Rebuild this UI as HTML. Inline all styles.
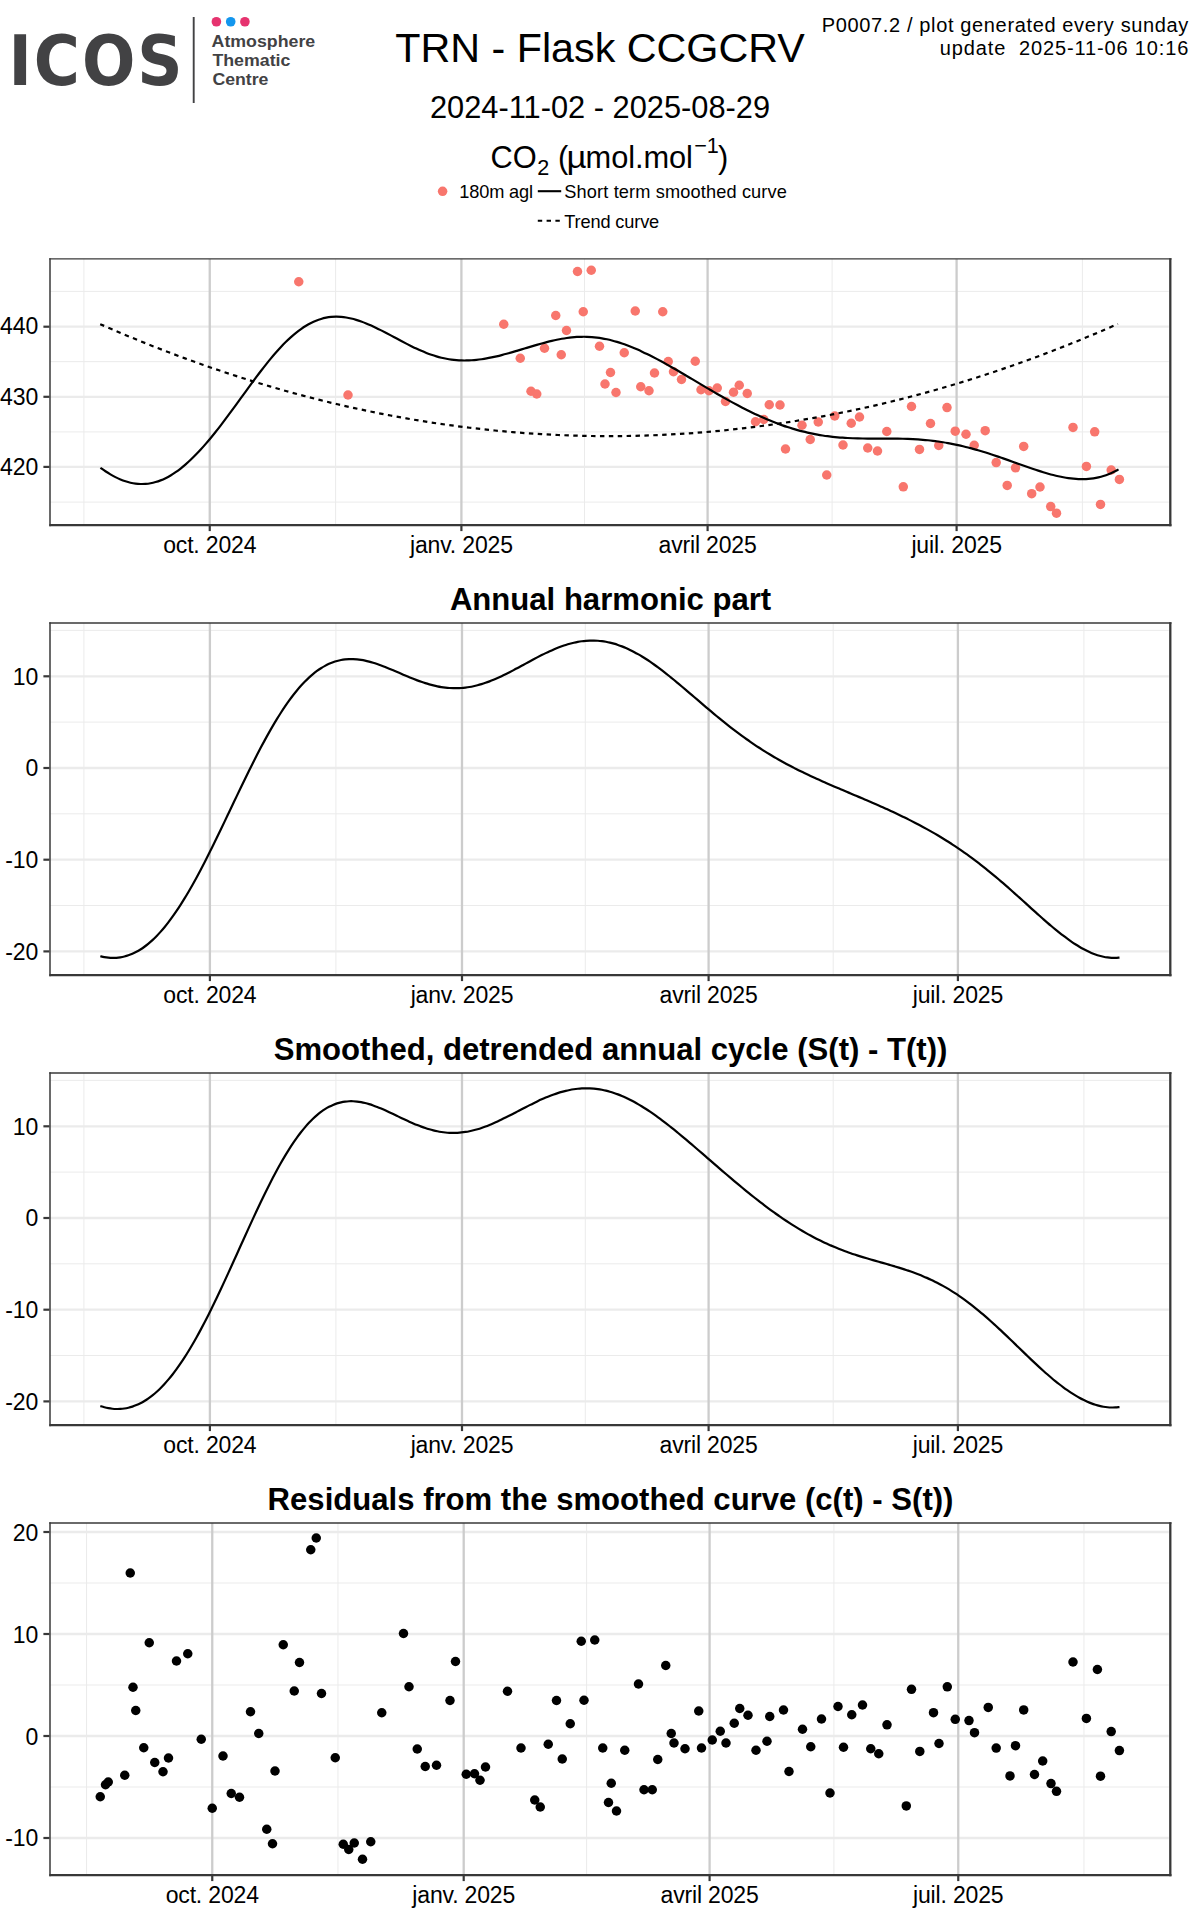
<!DOCTYPE html>
<html lang="fr">
<head>
<meta charset="utf-8">
<title>TRN - Flask CCGCRV</title>
<style>
html,body{margin:0;padding:0;background:#fff;}
body{width:1200px;height:1920px;overflow:hidden;}
svg{display:block;}
text{white-space:pre;}
</style>
</head>
<body>
<svg width="1200" height="1920" viewBox="0 0 1200 1920" font-family="'Liberation Sans', Arial, Helvetica, sans-serif">
<rect width="1200" height="1920" fill="#fff"/>
<g id="logo">
<text transform="scale(0.900 1)" x="9.32 37.64 91.08 152.59" y="85.4" font-family="'DejaVu Sans', 'Liberation Sans', sans-serif" font-weight="bold" font-size="69.8" fill="#424244">ICOS</text>
<line x1="193.7" x2="193.7" y1="17" y2="103" stroke="#424244" stroke-width="1.9"/>
<circle cx="216.4" cy="21.75" r="4.8" fill="#e6336f"/>
<circle cx="230.7" cy="21.75" r="4.8" fill="#1396ee"/>
<circle cx="244.9" cy="21.75" r="4.8" fill="#e6336f"/>
<text x="211.6" y="46.8" font-size="15.8" font-weight="bold" fill="#424244" textLength="103.6" lengthAdjust="spacingAndGlyphs">Atmosphere</text>
<text x="212.4" y="65.7" font-size="15.8" font-weight="bold" fill="#424244" textLength="78" lengthAdjust="spacingAndGlyphs">Thematic</text>
<text x="212.4" y="84.6" font-size="15.8" font-weight="bold" fill="#424244" textLength="56" lengthAdjust="spacingAndGlyphs">Centre</text>
</g>
<text x="600.00" y="62.20" font-size="41.25" text-anchor="middle" font-weight="normal" fill="#000">TRN - Flask CCGCRV</text>
<text x="600.00" y="117.60" font-size="30.80" text-anchor="middle" font-weight="normal" fill="#000">2024-11-02 - 2025-08-29</text>
<text y="168.1" font-size="30.8" fill="#000"><tspan x="490.6">CO</tspan><tspan x="537.3" y="174.9" font-size="21.6">2</tspan><tspan y="168.1"> </tspan><tspan x="558.0" y="168.1">(</tspan><tspan x="566.4" y="168.1" textLength="20.0" lengthAdjust="spacingAndGlyphs">µ</tspan><tspan x="585.6" y="168.1" textLength="107.3" lengthAdjust="spacing">mol.mol</tspan><tspan x="694.2" y="152.8" font-size="21.6">−1</tspan><tspan x="718.1" y="168.1">)</tspan></text>
<text x="1188.30" y="31.80" font-size="20.00" text-anchor="end" font-weight="normal" fill="#000" textLength="366.5" lengthAdjust="spacing">P0007.2 / plot generated every sunday</text>
<text x="1188.30" y="55.20" font-size="20.00" text-anchor="end" font-weight="normal" fill="#000" textLength="248.5" lengthAdjust="spacing">update  2025-11-06 10:16</text>
<circle cx="442.6" cy="191.3" r="4.75" fill="#f8766d"/>
<text x="459.30" y="197.90" font-size="18.20" text-anchor="start" font-weight="normal" fill="#000" textLength="73.7" lengthAdjust="spacing">180m agl</text>
<line x1="537.8" x2="561.2" y1="191.2" y2="191.2" stroke="#000" stroke-width="2.1"/>
<text x="564.30" y="197.90" font-size="18.20" text-anchor="start" font-weight="normal" fill="#000" textLength="222.6" lengthAdjust="spacing">Short term smoothed curve</text>
<line x1="537.8" x2="561.2" y1="220.7" y2="220.7" stroke="#000" stroke-width="2.1" stroke-dasharray="4.4 4.4"/>
<text x="564.30" y="228.00" font-size="18.20" text-anchor="start" font-weight="normal" fill="#000" textLength="94.9" lengthAdjust="spacing">Trend curve</text>
<rect x="50.00" y="258.90" width="1120.50" height="266.10" fill="#fff"/>
<line x1="50.00" x2="1168.80" y1="291.40" y2="291.40" stroke="#ebebeb" stroke-width="1.00"/>
<line x1="50.00" x2="1168.80" y1="361.65" y2="361.65" stroke="#ebebeb" stroke-width="1.00"/>
<line x1="50.00" x2="1168.80" y1="431.90" y2="431.90" stroke="#ebebeb" stroke-width="1.00"/>
<line x1="50.00" x2="1168.80" y1="502.10" y2="502.10" stroke="#ebebeb" stroke-width="1.00"/>
<line x1="83.90" x2="83.90" y1="258.90" y2="524.00" stroke="#ebebeb" stroke-width="1.00"/>
<line x1="335.60" x2="335.60" y1="258.90" y2="524.00" stroke="#ebebeb" stroke-width="1.00"/>
<line x1="584.50" x2="584.50" y1="258.90" y2="524.00" stroke="#ebebeb" stroke-width="1.00"/>
<line x1="832.10" x2="832.10" y1="258.90" y2="524.00" stroke="#ebebeb" stroke-width="1.00"/>
<line x1="1082.40" x2="1082.40" y1="258.90" y2="524.00" stroke="#ebebeb" stroke-width="1.00"/>
<line x1="50.00" x2="1168.80" y1="326.70" y2="326.70" stroke="#ebebeb" stroke-width="2.30"/>
<line x1="50.00" x2="1168.80" y1="396.80" y2="396.80" stroke="#ebebeb" stroke-width="2.30"/>
<line x1="50.00" x2="1168.80" y1="466.90" y2="466.90" stroke="#ebebeb" stroke-width="2.30"/>
<line x1="209.75" x2="209.75" y1="258.90" y2="524.00" stroke="#cccccc" stroke-width="2.30"/>
<line x1="461.40" x2="461.40" y1="258.90" y2="524.00" stroke="#cccccc" stroke-width="2.30"/>
<line x1="707.60" x2="707.60" y1="258.90" y2="524.00" stroke="#cccccc" stroke-width="2.30"/>
<line x1="956.60" x2="956.60" y1="258.90" y2="524.00" stroke="#cccccc" stroke-width="2.30"/>
<g fill="#f8766d">
<circle cx="298.75" cy="281.75" r="4.75"/>
<circle cx="348.00" cy="395.00" r="4.75"/>
<circle cx="503.75" cy="324.25" r="4.75"/>
<circle cx="520.25" cy="358.25" r="4.75"/>
<circle cx="531.00" cy="391.25" r="4.75"/>
<circle cx="536.75" cy="394.00" r="4.75"/>
<circle cx="544.50" cy="348.25" r="4.75"/>
<circle cx="555.75" cy="315.50" r="4.75"/>
<circle cx="561.25" cy="354.75" r="4.75"/>
<circle cx="566.50" cy="330.50" r="4.75"/>
<circle cx="577.50" cy="271.50" r="4.75"/>
<circle cx="583.25" cy="311.75" r="4.75"/>
<circle cx="591.25" cy="270.25" r="4.75"/>
<circle cx="599.50" cy="346.25" r="4.75"/>
<circle cx="610.50" cy="372.50" r="4.75"/>
<circle cx="605.00" cy="384.00" r="4.75"/>
<circle cx="616.00" cy="392.50" r="4.75"/>
<circle cx="624.25" cy="352.75" r="4.75"/>
<circle cx="635.25" cy="311.00" r="4.75"/>
<circle cx="640.75" cy="386.75" r="4.75"/>
<circle cx="649.00" cy="390.75" r="4.75"/>
<circle cx="654.50" cy="373.00" r="4.75"/>
<circle cx="662.75" cy="311.75" r="4.75"/>
<circle cx="668.25" cy="361.50" r="4.75"/>
<circle cx="673.50" cy="371.75" r="4.75"/>
<circle cx="681.50" cy="379.50" r="4.75"/>
<circle cx="695.25" cy="361.25" r="4.75"/>
<circle cx="701.00" cy="389.75" r="4.75"/>
<circle cx="709.00" cy="390.75" r="4.75"/>
<circle cx="717.25" cy="388.00" r="4.75"/>
<circle cx="725.50" cy="401.50" r="4.75"/>
<circle cx="733.50" cy="392.25" r="4.75"/>
<circle cx="739.25" cy="385.25" r="4.75"/>
<circle cx="747.25" cy="393.50" r="4.75"/>
<circle cx="755.50" cy="421.75" r="4.75"/>
<circle cx="763.75" cy="419.50" r="4.75"/>
<circle cx="769.25" cy="404.75" r="4.75"/>
<circle cx="780.00" cy="405.00" r="4.75"/>
<circle cx="785.50" cy="449.00" r="4.75"/>
<circle cx="802.00" cy="425.25" r="4.75"/>
<circle cx="810.25" cy="439.50" r="4.75"/>
<circle cx="818.25" cy="422.00" r="4.75"/>
<circle cx="826.75" cy="475.00" r="4.75"/>
<circle cx="834.75" cy="416.00" r="4.75"/>
<circle cx="843.00" cy="445.00" r="4.75"/>
<circle cx="851.25" cy="423.25" r="4.75"/>
<circle cx="859.50" cy="417.00" r="4.75"/>
<circle cx="867.75" cy="448.00" r="4.75"/>
<circle cx="877.50" cy="451.00" r="4.75"/>
<circle cx="886.80" cy="431.50" r="4.75"/>
<circle cx="903.30" cy="486.80" r="4.75"/>
<circle cx="911.50" cy="406.50" r="4.75"/>
<circle cx="919.50" cy="449.40" r="4.75"/>
<circle cx="930.50" cy="423.50" r="4.75"/>
<circle cx="938.75" cy="445.50" r="4.75"/>
<circle cx="947.00" cy="407.60" r="4.75"/>
<circle cx="955.25" cy="431.20" r="4.75"/>
<circle cx="966.00" cy="434.25" r="4.75"/>
<circle cx="974.20" cy="445.25" r="4.75"/>
<circle cx="985.20" cy="430.70" r="4.75"/>
<circle cx="996.20" cy="462.60" r="4.75"/>
<circle cx="1007.20" cy="485.40" r="4.75"/>
<circle cx="1015.50" cy="467.80" r="4.75"/>
<circle cx="1023.70" cy="446.40" r="4.75"/>
<circle cx="1031.70" cy="493.70" r="4.75"/>
<circle cx="1040.00" cy="487.00" r="4.75"/>
<circle cx="1050.70" cy="506.60" r="4.75"/>
<circle cx="1056.50" cy="513.20" r="4.75"/>
<circle cx="1073.00" cy="427.40" r="4.75"/>
<circle cx="1086.40" cy="466.40" r="4.75"/>
<circle cx="1094.70" cy="431.80" r="4.75"/>
<circle cx="1100.50" cy="504.40" r="4.75"/>
<circle cx="1111.20" cy="470.00" r="4.75"/>
<circle cx="1119.40" cy="479.40" r="4.75"/>
</g>
<path d="M100.40 467.82C101.24 468.39 103.74 470.18 105.42 471.28C107.09 472.38 108.76 473.42 110.43 474.40C112.10 475.37 113.77 476.29 115.45 477.13C117.12 477.97 118.79 478.75 120.46 479.44C122.13 480.14 123.80 480.76 125.48 481.31C127.15 481.85 128.82 482.32 130.49 482.70C132.16 483.08 133.84 483.39 135.51 483.60C137.18 483.82 138.85 483.95 140.52 484.00C142.19 484.05 143.87 484.01 145.54 483.88C147.21 483.75 148.88 483.54 150.55 483.23C152.22 482.93 153.90 482.54 155.57 482.06C157.24 481.58 158.91 481.02 160.58 480.37C162.26 479.71 163.93 478.97 165.60 478.15C167.27 477.33 168.94 476.42 170.61 475.43C172.29 474.44 173.96 473.36 175.63 472.21C177.30 471.06 178.97 469.82 180.64 468.52C182.32 467.21 183.99 465.83 185.66 464.38C187.33 462.93 189.00 461.40 190.67 459.81C192.35 458.23 194.02 456.57 195.69 454.85C197.36 453.14 199.03 451.36 200.71 449.53C202.38 447.71 204.05 445.82 205.72 443.88C207.39 441.95 209.06 439.96 210.74 437.94C212.41 435.91 214.08 433.84 215.75 431.73C217.42 429.63 219.09 427.48 220.77 425.31C222.44 423.14 224.11 420.93 225.78 418.70C227.45 416.48 229.13 414.22 230.80 411.95C232.47 409.69 234.14 407.40 235.81 405.11C237.48 402.82 239.16 400.51 240.83 398.21C242.50 395.91 244.17 393.60 245.84 391.31C247.51 389.01 249.19 386.72 250.86 384.44C252.53 382.17 254.20 379.90 255.87 377.67C257.55 375.43 259.22 373.21 260.89 371.04C262.56 368.86 264.23 366.70 265.90 364.60C267.58 362.49 269.25 360.42 270.92 358.41C272.59 356.39 274.26 354.42 275.93 352.52C277.61 350.61 279.28 348.76 280.95 346.98C282.62 345.19 284.29 343.47 285.97 341.82C287.64 340.18 289.31 338.60 290.98 337.10C292.65 335.60 294.32 334.17 296.00 332.83C297.67 331.49 299.34 330.22 301.01 329.04C302.68 327.86 304.35 326.76 306.03 325.74C307.70 324.73 309.37 323.80 311.04 322.96C312.71 322.12 314.38 321.36 316.06 320.69C317.73 320.02 319.40 319.43 321.07 318.93C322.74 318.43 324.42 318.02 326.09 317.69C327.76 317.36 329.43 317.11 331.10 316.94C332.77 316.77 334.45 316.68 336.12 316.67C337.79 316.66 339.46 316.72 341.13 316.86C342.80 316.99 344.48 317.20 346.15 317.47C347.82 317.74 349.49 318.08 351.16 318.47C352.84 318.86 354.51 319.32 356.18 319.83C357.85 320.33 359.52 320.89 361.19 321.49C362.87 322.08 364.54 322.73 366.21 323.41C367.88 324.09 369.55 324.82 371.22 325.57C372.90 326.32 374.57 327.10 376.24 327.91C377.91 328.71 379.58 329.55 381.26 330.39C382.93 331.24 384.60 332.11 386.27 332.98C387.94 333.86 389.61 334.75 391.29 335.64C392.96 336.53 394.63 337.43 396.30 338.32C397.97 339.21 399.64 340.11 401.32 341.00C402.99 341.88 404.66 342.76 406.33 343.62C408.00 344.48 409.68 345.33 411.35 346.16C413.02 346.98 414.69 347.80 416.36 348.57C418.03 349.35 419.71 350.11 421.38 350.83C423.05 351.55 424.72 352.24 426.39 352.90C428.06 353.55 429.74 354.17 431.41 354.74C433.08 355.32 434.75 355.86 436.42 356.35C438.09 356.85 439.77 357.30 441.44 357.71C443.11 358.11 444.78 358.48 446.45 358.79C448.13 359.11 449.80 359.38 451.47 359.61C453.14 359.84 454.81 360.02 456.48 360.16C458.16 360.30 459.83 360.39 461.50 360.44C463.17 360.50 464.84 360.50 466.51 360.47C468.19 360.44 469.86 360.37 471.53 360.27C473.20 360.16 474.87 360.02 476.55 359.84C478.22 359.67 479.89 359.46 481.56 359.22C483.23 358.98 484.90 358.71 486.58 358.41C488.25 358.12 489.92 357.79 491.59 357.45C493.26 357.10 494.93 356.73 496.61 356.34C498.28 355.95 499.95 355.54 501.62 355.11C503.29 354.68 504.97 354.24 506.64 353.78C508.31 353.32 509.98 352.85 511.65 352.37C513.32 351.89 515.00 351.40 516.67 350.90C518.34 350.40 520.01 349.90 521.68 349.39C523.35 348.89 525.03 348.38 526.70 347.87C528.37 347.37 530.04 346.86 531.71 346.36C533.39 345.86 535.06 345.37 536.73 344.88C538.40 344.40 540.07 343.92 541.74 343.46C543.42 342.99 545.09 342.54 546.76 342.11C548.43 341.68 550.10 341.26 551.77 340.86C553.45 340.47 555.12 340.09 556.79 339.75C558.46 339.40 560.13 339.07 561.80 338.78C563.48 338.48 565.15 338.22 566.82 337.98C568.49 337.75 570.16 337.54 571.84 337.38C573.51 337.21 575.18 337.07 576.85 336.97C578.52 336.88 580.19 336.81 581.87 336.79C583.54 336.76 585.21 336.77 586.88 336.82C588.55 336.88 590.22 336.96 591.90 337.09C593.57 337.22 595.24 337.39 596.91 337.59C598.58 337.80 600.26 338.05 601.93 338.33C603.60 338.61 605.27 338.94 606.94 339.29C608.61 339.65 610.29 340.05 611.96 340.48C613.63 340.91 615.30 341.38 616.97 341.88C618.64 342.38 620.32 342.92 621.99 343.49C623.66 344.05 625.33 344.65 627.00 345.28C628.68 345.91 630.35 346.56 632.02 347.24C633.69 347.92 635.36 348.63 637.03 349.36C638.71 350.09 640.38 350.85 642.05 351.63C643.72 352.40 645.39 353.20 647.06 354.02C648.74 354.84 650.41 355.67 652.08 356.53C653.75 357.38 655.42 358.25 657.10 359.13C658.77 360.02 660.44 360.92 662.11 361.83C663.78 362.74 665.45 363.67 667.13 364.60C668.80 365.54 670.47 366.48 672.14 367.44C673.81 368.39 675.48 369.35 677.16 370.32C678.83 371.29 680.50 372.27 682.17 373.25C683.84 374.23 685.51 375.21 687.19 376.20C688.86 377.19 690.53 378.18 692.20 379.17C693.87 380.16 695.55 381.16 697.22 382.15C698.89 383.14 700.56 384.14 702.23 385.12C703.90 386.11 705.58 387.10 707.25 388.09C708.92 389.07 710.59 390.05 712.26 391.02C713.93 392.00 715.61 392.97 717.28 393.93C718.95 394.89 720.62 395.85 722.29 396.80C723.97 397.75 725.64 398.69 727.31 399.62C728.98 400.55 730.65 401.47 732.32 402.38C734.00 403.29 735.67 404.19 737.34 405.07C739.01 405.96 740.68 406.83 742.35 407.70C744.03 408.56 745.70 409.41 747.37 410.24C749.04 411.08 750.71 411.90 752.39 412.70C754.06 413.51 755.73 414.30 757.40 415.07C759.07 415.84 760.74 416.60 762.42 417.34C764.09 418.08 765.76 418.80 767.43 419.51C769.10 420.21 770.77 420.90 772.45 421.57C774.12 422.23 775.79 422.88 777.46 423.51C779.13 424.14 780.81 424.75 782.48 425.34C784.15 425.93 785.82 426.50 787.49 427.05C789.16 427.60 790.84 428.13 792.51 428.63C794.18 429.14 795.85 429.63 797.52 430.09C799.19 430.55 800.87 431.00 802.54 431.42C804.21 431.84 805.88 432.24 807.55 432.62C809.22 433.00 810.90 433.36 812.57 433.70C814.24 434.04 815.91 434.35 817.58 434.65C819.26 434.95 820.93 435.22 822.60 435.48C824.27 435.74 825.94 435.98 827.61 436.19C829.29 436.41 830.96 436.61 832.63 436.80C834.30 436.98 835.97 437.14 837.64 437.29C839.32 437.44 840.99 437.57 842.66 437.69C844.33 437.81 846.00 437.91 847.68 438.00C849.35 438.09 851.02 438.16 852.69 438.23C854.36 438.29 856.03 438.34 857.71 438.38C859.38 438.43 861.05 438.46 862.72 438.48C864.39 438.50 866.06 438.52 867.74 438.53C869.41 438.54 871.08 438.54 872.75 438.55C874.42 438.55 876.10 438.55 877.77 438.54C879.44 438.54 881.11 438.54 882.78 438.54C884.45 438.54 886.13 438.53 887.80 438.54C889.47 438.54 891.14 438.55 892.81 438.57C894.48 438.58 896.16 438.60 897.83 438.63C899.50 438.65 901.17 438.69 902.84 438.73C904.52 438.78 906.19 438.83 907.86 438.90C909.53 438.96 911.20 439.04 912.87 439.13C914.55 439.22 916.22 439.32 917.89 439.43C919.56 439.54 921.23 439.67 922.90 439.81C924.58 439.95 926.25 440.11 927.92 440.28C929.59 440.45 931.26 440.64 932.93 440.84C934.61 441.04 936.28 441.26 937.95 441.49C939.62 441.73 941.29 441.98 942.97 442.25C944.64 442.51 946.31 442.80 947.98 443.10C949.65 443.40 951.32 443.71 953.00 444.05C954.67 444.38 956.34 444.73 958.01 445.10C959.68 445.46 961.35 445.84 963.03 446.24C964.70 446.64 966.37 447.05 968.04 447.48C969.71 447.91 971.39 448.36 973.06 448.82C974.73 449.28 976.40 449.75 978.07 450.24C979.74 450.72 981.42 451.22 983.09 451.74C984.76 452.25 986.43 452.77 988.10 453.31C989.77 453.84 991.45 454.39 993.12 454.95C994.79 455.50 996.46 456.07 998.13 456.64C999.81 457.21 1001.48 457.79 1003.15 458.38C1004.82 458.96 1006.49 459.55 1008.16 460.15C1009.84 460.74 1011.51 461.34 1013.18 461.94C1014.85 462.53 1016.52 463.13 1018.19 463.73C1019.87 464.33 1021.54 464.93 1023.21 465.52C1024.88 466.11 1026.55 466.70 1028.23 467.28C1029.90 467.86 1031.57 468.43 1033.24 468.99C1034.91 469.56 1036.58 470.11 1038.26 470.65C1039.93 471.19 1041.60 471.71 1043.27 472.22C1044.94 472.73 1046.61 473.22 1048.29 473.69C1049.96 474.16 1051.63 474.61 1053.30 475.04C1054.97 475.46 1056.64 475.86 1058.32 476.23C1059.99 476.60 1061.66 476.95 1063.33 477.26C1065.00 477.57 1066.68 477.85 1068.35 478.08C1070.02 478.32 1071.69 478.53 1073.36 478.69C1075.03 478.84 1076.71 478.97 1078.38 479.04C1080.05 479.11 1081.72 479.13 1083.39 479.11C1085.06 479.08 1086.74 479.01 1088.41 478.87C1090.08 478.74 1091.75 478.55 1093.42 478.30C1095.10 478.05 1096.77 477.75 1098.44 477.37C1100.11 476.99 1101.78 476.56 1103.45 476.04C1105.13 475.53 1106.80 474.95 1108.47 474.29C1110.14 473.63 1111.81 472.90 1113.48 472.09C1115.16 471.27 1117.66 469.85 1118.50 469.40" fill="none" stroke="#000" stroke-width="2.2" stroke-linejoin="round"/>
<path d="M100.20 324.14C103.03 325.37 111.51 329.08 117.16 331.49C122.82 333.89 128.47 336.26 134.12 338.58C139.78 340.91 145.43 343.19 151.09 345.43C156.74 347.67 162.39 349.87 168.05 352.03C173.70 354.18 179.35 356.30 185.01 358.37C190.66 360.45 196.32 362.48 201.97 364.47C207.62 366.47 213.28 368.42 218.93 370.32C224.59 372.23 230.24 374.10 235.89 375.92C241.55 377.75 247.20 379.53 252.86 381.28C258.51 383.02 264.16 384.72 269.82 386.38C275.47 388.04 281.12 389.66 286.78 391.23C292.43 392.81 298.09 394.34 303.74 395.84C309.39 397.33 315.05 398.78 320.70 400.19C326.36 401.60 332.01 402.97 337.66 404.30C343.32 405.63 348.97 406.91 354.62 408.16C360.28 409.40 365.93 410.60 371.59 411.76C377.24 412.93 382.89 414.05 388.55 415.12C394.20 416.20 399.86 417.24 405.51 418.23C411.16 419.23 416.82 420.18 422.47 421.09C428.13 422.01 433.78 422.88 439.43 423.71C445.09 424.53 450.74 425.32 456.39 426.07C462.05 426.81 467.70 427.52 473.36 428.18C479.01 428.84 484.66 429.47 490.32 430.05C495.97 430.63 501.63 431.16 507.28 431.66C512.93 432.16 518.59 432.61 524.24 433.03C529.90 433.44 535.55 433.81 541.20 434.14C546.86 434.48 552.51 434.76 558.17 435.01C563.82 435.26 569.47 435.47 575.13 435.63C580.78 435.80 586.43 435.92 592.09 436.00C597.74 436.08 603.40 436.12 609.05 436.12C614.70 436.12 620.36 436.08 626.01 435.99C631.67 435.91 637.32 435.78 642.97 435.62C648.63 435.45 654.28 435.24 659.94 434.99C665.59 434.74 671.24 434.45 676.90 434.11C682.55 433.78 688.20 433.40 693.86 432.99C699.51 432.57 705.17 432.11 710.82 431.61C716.47 431.11 722.13 430.57 727.78 429.99C733.44 429.41 739.09 428.78 744.74 428.12C750.40 427.45 756.05 426.75 761.71 426.00C767.36 425.25 773.01 424.46 778.67 423.63C784.32 422.79 789.97 421.92 795.63 421.01C801.28 420.09 806.94 419.14 812.59 418.14C818.24 417.14 823.90 416.10 829.55 415.02C835.21 413.94 840.86 412.82 846.51 411.65C852.17 410.49 857.82 409.28 863.48 408.04C869.13 406.79 874.78 405.50 880.44 404.17C886.09 402.84 891.74 401.47 897.40 400.06C903.05 398.65 908.71 397.19 914.36 395.69C920.01 394.20 925.67 392.66 931.32 391.08C936.98 389.50 942.63 387.88 948.28 386.22C953.94 384.56 959.59 382.86 965.25 381.11C970.90 379.37 976.55 377.58 982.21 375.75C987.86 373.92 993.51 372.05 999.17 370.14C1004.82 368.23 1010.48 366.28 1016.13 364.28C1021.78 362.29 1027.44 360.25 1033.09 358.18C1038.75 356.10 1044.40 353.98 1050.05 351.82C1055.71 349.66 1061.36 347.46 1067.02 345.22C1072.67 342.97 1078.32 340.69 1083.98 338.36C1089.63 336.03 1095.28 333.67 1100.94 331.26C1106.59 328.85 1115.07 325.13 1117.90 323.91" fill="none" stroke="#000" stroke-width="2.2" stroke-dasharray="4.446 4.446"/>
<line x1="50.00" x2="50.00" y1="258.25" y2="526.20" stroke="#383838" stroke-width="1.5"/>
<line x1="49.30" x2="1171.50" y1="258.90" y2="258.90" stroke="#383838" stroke-width="1.4"/>
<line x1="1170.30" x2="1170.30" y1="258.25" y2="526.20" stroke="#383838" stroke-width="2.3"/>
<line x1="49.35" x2="1171.45" y1="525.10" y2="525.10" stroke="#383838" stroke-width="2.2"/>
<line x1="43.40" x2="49.50" y1="326.70" y2="326.70" stroke="#383838" stroke-width="2.20"/>
<line x1="43.40" x2="49.50" y1="396.80" y2="396.80" stroke="#383838" stroke-width="2.20"/>
<line x1="43.40" x2="49.50" y1="466.90" y2="466.90" stroke="#383838" stroke-width="2.20"/>
<line x1="209.75" x2="209.75" y1="526.00" y2="531.10" stroke="#383838" stroke-width="2.20"/>
<line x1="461.40" x2="461.40" y1="526.00" y2="531.10" stroke="#383838" stroke-width="2.20"/>
<line x1="707.60" x2="707.60" y1="526.00" y2="531.10" stroke="#383838" stroke-width="2.20"/>
<line x1="956.60" x2="956.60" y1="526.00" y2="531.10" stroke="#383838" stroke-width="2.20"/>
<text x="38.40" y="334.40" font-size="23.00" text-anchor="end" font-weight="normal" fill="#000">440</text>
<text x="38.40" y="404.50" font-size="23.00" text-anchor="end" font-weight="normal" fill="#000">430</text>
<text x="38.40" y="474.50" font-size="23.00" text-anchor="end" font-weight="normal" fill="#000">420</text>
<text x="209.75" y="553.00" font-size="23.00" text-anchor="middle" font-weight="normal" fill="#000" letter-spacing="-0.17">oct. 2024</text>
<text x="461.40" y="553.00" font-size="23.00" text-anchor="middle" font-weight="normal" fill="#000" letter-spacing="-0.17">janv. 2025</text>
<text x="707.60" y="553.00" font-size="23.00" text-anchor="middle" font-weight="normal" fill="#000" letter-spacing="-0.17">avril 2025</text>
<text x="956.60" y="553.00" font-size="23.00" text-anchor="middle" font-weight="normal" fill="#000" letter-spacing="-0.17">juil. 2025</text>
<rect x="50.00" y="623.00" width="1120.50" height="352.00" fill="#fff"/>
<line x1="50.00" x2="1168.80" y1="630.40" y2="630.40" stroke="#ebebeb" stroke-width="1.00"/>
<line x1="50.00" x2="1168.80" y1="722.10" y2="722.10" stroke="#ebebeb" stroke-width="1.00"/>
<line x1="50.00" x2="1168.80" y1="813.80" y2="813.80" stroke="#ebebeb" stroke-width="1.00"/>
<line x1="50.00" x2="1168.80" y1="905.50" y2="905.50" stroke="#ebebeb" stroke-width="1.00"/>
<line x1="83.90" x2="83.90" y1="623.00" y2="974.00" stroke="#ebebeb" stroke-width="1.00"/>
<line x1="335.90" x2="335.90" y1="623.00" y2="974.00" stroke="#ebebeb" stroke-width="1.00"/>
<line x1="585.30" x2="585.30" y1="623.00" y2="974.00" stroke="#ebebeb" stroke-width="1.00"/>
<line x1="833.20" x2="833.20" y1="623.00" y2="974.00" stroke="#ebebeb" stroke-width="1.00"/>
<line x1="1083.90" x2="1083.90" y1="623.00" y2="974.00" stroke="#ebebeb" stroke-width="1.00"/>
<line x1="50.00" x2="1168.80" y1="676.30" y2="676.30" stroke="#ebebeb" stroke-width="2.30"/>
<line x1="50.00" x2="1168.80" y1="768.00" y2="768.00" stroke="#ebebeb" stroke-width="2.30"/>
<line x1="50.00" x2="1168.80" y1="859.70" y2="859.70" stroke="#ebebeb" stroke-width="2.30"/>
<line x1="50.00" x2="1168.80" y1="951.40" y2="951.40" stroke="#ebebeb" stroke-width="2.30"/>
<line x1="209.90" x2="209.90" y1="623.00" y2="974.00" stroke="#cccccc" stroke-width="2.30"/>
<line x1="462.00" x2="462.00" y1="623.00" y2="974.00" stroke="#cccccc" stroke-width="2.30"/>
<line x1="708.60" x2="708.60" y1="623.00" y2="974.00" stroke="#cccccc" stroke-width="2.30"/>
<line x1="957.90" x2="957.90" y1="623.00" y2="974.00" stroke="#cccccc" stroke-width="2.30"/>
<path d="M100.30 956.20C100.97 956.35 102.98 956.84 104.31 957.08C105.65 957.32 106.99 957.51 108.33 957.64C109.66 957.78 111.00 957.86 112.34 957.88C113.68 957.91 115.01 957.88 116.35 957.78C117.69 957.69 119.03 957.54 120.36 957.33C121.70 957.12 123.04 956.85 124.38 956.52C125.71 956.18 127.05 955.79 128.39 955.33C129.73 954.87 131.06 954.35 132.40 953.77C133.74 953.18 135.08 952.53 136.41 951.82C137.75 951.10 139.09 950.32 140.43 949.47C141.76 948.63 143.10 947.72 144.44 946.74C145.78 945.76 147.11 944.72 148.45 943.61C149.79 942.50 151.13 941.32 152.46 940.08C153.80 938.84 155.14 937.54 156.48 936.17C157.81 934.80 159.15 933.36 160.49 931.86C161.83 930.36 163.16 928.80 164.50 927.18C165.84 925.55 167.18 923.87 168.51 922.12C169.85 920.37 171.19 918.57 172.53 916.70C173.86 914.84 175.20 912.91 176.54 910.93C177.88 908.95 179.21 906.92 180.55 904.83C181.89 902.74 183.23 900.60 184.56 898.41C185.90 896.22 187.24 893.97 188.58 891.69C189.91 889.40 191.25 887.06 192.59 884.68C193.93 882.31 195.26 879.88 196.60 877.42C197.94 874.96 199.28 872.46 200.61 869.92C201.95 867.39 203.29 864.81 204.63 862.21C205.97 859.61 207.30 856.97 208.64 854.31C209.98 851.65 211.32 848.96 212.65 846.25C213.99 843.54 215.33 840.81 216.67 838.06C218.00 835.31 219.34 832.54 220.68 829.76C222.02 826.99 223.35 824.19 224.69 821.39C226.03 818.60 227.37 815.79 228.70 812.98C230.04 810.17 231.38 807.36 232.72 804.55C234.05 801.74 235.39 798.93 236.73 796.13C238.07 793.33 239.40 790.54 240.74 787.76C242.08 784.98 243.42 782.21 244.75 779.47C246.09 776.72 247.43 773.98 248.77 771.28C250.10 768.57 251.44 765.88 252.78 763.22C254.12 760.56 255.45 757.92 256.79 755.32C258.13 752.72 259.47 750.15 260.80 747.61C262.14 745.08 263.48 742.58 264.82 740.12C266.15 737.66 267.49 735.24 268.83 732.86C270.17 730.49 271.50 728.15 272.84 725.87C274.18 723.58 275.52 721.34 276.85 719.16C278.19 716.97 279.53 714.83 280.87 712.75C282.20 710.67 283.54 708.63 284.88 706.66C286.22 704.69 287.55 702.77 288.89 700.91C290.23 699.05 291.57 697.25 292.90 695.51C294.24 693.77 295.58 692.09 296.92 690.47C298.25 688.86 299.59 687.30 300.93 685.81C302.27 684.31 303.60 682.88 304.94 681.52C306.28 680.15 307.62 678.85 308.96 677.62C310.29 676.38 311.63 675.21 312.97 674.10C314.31 672.99 315.64 671.95 316.98 670.97C318.32 669.99 319.66 669.07 320.99 668.22C322.33 667.37 323.67 666.58 325.01 665.85C326.34 665.13 327.68 664.47 329.02 663.86C330.36 663.26 331.69 662.72 333.03 662.23C334.37 661.75 335.71 661.33 337.04 660.96C338.38 660.59 339.72 660.28 341.06 660.03C342.39 659.77 343.73 659.57 345.07 659.42C346.41 659.27 347.74 659.17 349.08 659.12C350.42 659.07 351.76 659.08 353.09 659.12C354.43 659.16 355.77 659.26 357.11 659.39C358.44 659.52 359.78 659.70 361.12 659.91C362.46 660.12 363.79 660.37 365.13 660.66C366.47 660.94 367.81 661.27 369.14 661.61C370.48 661.96 371.82 662.35 373.16 662.75C374.49 663.16 375.83 663.60 377.17 664.05C378.51 664.51 379.84 664.99 381.18 665.49C382.52 665.98 383.86 666.50 385.19 667.03C386.53 667.56 387.87 668.10 389.21 668.65C390.54 669.21 391.88 669.77 393.22 670.34C394.56 670.91 395.89 671.48 397.23 672.06C398.57 672.63 399.91 673.22 401.24 673.79C402.58 674.36 403.92 674.94 405.26 675.51C406.60 676.07 407.93 676.64 409.27 677.19C410.61 677.74 411.95 678.29 413.28 678.82C414.62 679.34 415.96 679.86 417.30 680.36C418.63 680.86 419.97 681.35 421.31 681.82C422.65 682.28 423.98 682.73 425.32 683.15C426.66 683.58 428.00 683.98 429.33 684.36C430.67 684.74 432.01 685.10 433.35 685.43C434.68 685.75 436.02 686.06 437.36 686.33C438.70 686.61 440.03 686.85 441.37 687.07C442.71 687.29 444.05 687.47 445.38 687.63C446.72 687.78 448.06 687.91 449.40 688.00C450.73 688.10 452.07 688.16 453.41 688.19C454.75 688.22 456.08 688.22 457.42 688.18C458.76 688.15 460.10 688.08 461.43 687.98C462.77 687.88 464.11 687.74 465.45 687.58C466.78 687.41 468.12 687.22 469.46 686.99C470.80 686.76 472.13 686.50 473.47 686.21C474.81 685.92 476.15 685.60 477.48 685.25C478.82 684.90 480.16 684.52 481.50 684.11C482.83 683.71 484.17 683.27 485.51 682.81C486.85 682.35 488.18 681.86 489.52 681.35C490.86 680.85 492.20 680.31 493.53 679.75C494.87 679.20 496.21 678.62 497.55 678.03C498.88 677.43 500.22 676.81 501.56 676.18C502.90 675.55 504.23 674.90 505.57 674.24C506.91 673.57 508.25 672.90 509.59 672.21C510.92 671.52 512.26 670.82 513.60 670.11C514.94 669.41 516.27 668.69 517.61 667.97C518.95 667.25 520.29 666.52 521.62 665.80C522.96 665.07 524.30 664.34 525.64 663.61C526.97 662.88 528.31 662.15 529.65 661.43C530.99 660.70 532.32 659.98 533.66 659.27C535.00 658.56 536.34 657.85 537.67 657.15C539.01 656.46 540.35 655.77 541.69 655.10C543.02 654.42 544.36 653.76 545.70 653.12C547.04 652.47 548.37 651.84 549.71 651.23C551.05 650.62 552.39 650.03 553.72 649.46C555.06 648.89 556.40 648.33 557.74 647.81C559.07 647.28 560.41 646.78 561.75 646.30C563.09 645.82 564.42 645.36 565.76 644.94C567.10 644.51 568.44 644.11 569.77 643.75C571.11 643.38 572.45 643.04 573.79 642.73C575.12 642.42 576.46 642.14 577.80 641.90C579.14 641.65 580.47 641.44 581.81 641.26C583.15 641.08 584.49 640.93 585.82 640.82C587.16 640.71 588.50 640.63 589.84 640.59C591.17 640.55 592.51 640.54 593.85 640.57C595.19 640.60 596.52 640.66 597.86 640.76C599.20 640.86 600.54 641.00 601.87 641.17C603.21 641.34 604.55 641.55 605.89 641.79C607.22 642.04 608.56 642.32 609.90 642.63C611.24 642.95 612.58 643.30 613.91 643.68C615.25 644.07 616.59 644.49 617.93 644.94C619.26 645.39 620.60 645.88 621.94 646.40C623.28 646.92 624.61 647.48 625.95 648.06C627.29 648.65 628.63 649.26 629.96 649.91C631.30 650.56 632.64 651.23 633.98 651.94C635.31 652.65 636.65 653.38 637.99 654.14C639.33 654.91 640.66 655.70 642.00 656.51C643.34 657.33 644.68 658.17 646.01 659.03C647.35 659.90 648.69 660.79 650.03 661.70C651.36 662.61 652.70 663.54 654.04 664.49C655.38 665.44 656.71 666.42 658.05 667.41C659.39 668.39 660.73 669.40 662.06 670.43C663.40 671.45 664.74 672.49 666.08 673.54C667.41 674.60 668.75 675.66 670.09 676.74C671.43 677.82 672.76 678.91 674.10 680.01C675.44 681.11 676.78 682.22 678.11 683.34C679.45 684.46 680.79 685.58 682.13 686.72C683.46 687.85 684.80 688.98 686.14 690.12C687.48 691.26 688.81 692.41 690.15 693.56C691.49 694.70 692.83 695.85 694.16 697.00C695.50 698.15 696.84 699.30 698.18 700.45C699.51 701.60 700.85 702.74 702.19 703.89C703.53 705.03 704.86 706.17 706.20 707.31C707.54 708.44 708.88 709.58 710.21 710.70C711.55 711.83 712.89 712.95 714.23 714.06C715.57 715.18 716.90 716.28 718.24 717.38C719.58 718.48 720.92 719.57 722.25 720.66C723.59 721.74 724.93 722.81 726.27 723.87C727.60 724.94 728.94 725.99 730.28 727.03C731.62 728.08 732.95 729.11 734.29 730.13C735.63 731.15 736.97 732.16 738.30 733.16C739.64 734.16 740.98 735.14 742.32 736.12C743.65 737.09 744.99 738.06 746.33 739.01C747.67 739.96 749.00 740.90 750.34 741.82C751.68 742.75 753.02 743.66 754.35 744.57C755.69 745.47 757.03 746.36 758.37 747.23C759.70 748.11 761.04 748.97 762.38 749.83C763.72 750.68 765.05 751.52 766.39 752.35C767.73 753.18 769.07 753.99 770.40 754.80C771.74 755.60 773.08 756.39 774.42 757.18C775.75 757.96 777.09 758.73 778.43 759.49C779.77 760.25 781.10 761.00 782.44 761.74C783.78 762.47 785.12 763.20 786.45 763.92C787.79 764.64 789.13 765.35 790.47 766.05C791.80 766.75 793.14 767.44 794.48 768.12C795.82 768.80 797.15 769.48 798.49 770.14C799.83 770.81 801.17 771.46 802.50 772.11C803.84 772.77 805.18 773.41 806.52 774.04C807.85 774.68 809.19 775.31 810.53 775.93C811.87 776.56 813.20 777.17 814.54 777.79C815.88 778.40 817.22 779.00 818.56 779.61C819.89 780.21 821.23 780.80 822.57 781.40C823.91 781.99 825.24 782.58 826.58 783.17C827.92 783.75 829.26 784.33 830.59 784.91C831.93 785.49 833.27 786.07 834.61 786.64C835.94 787.22 837.28 787.79 838.62 788.36C839.96 788.93 841.29 789.50 842.63 790.07C843.97 790.64 845.31 791.20 846.64 791.77C847.98 792.34 849.32 792.90 850.66 793.47C851.99 794.03 853.33 794.60 854.67 795.17C856.01 795.73 857.34 796.30 858.68 796.87C860.02 797.44 861.36 798.00 862.69 798.58C864.03 799.15 865.37 799.72 866.71 800.29C868.04 800.87 869.38 801.44 870.72 802.02C872.06 802.60 873.39 803.18 874.73 803.77C876.07 804.35 877.41 804.94 878.74 805.53C880.08 806.12 881.42 806.72 882.76 807.31C884.09 807.91 885.43 808.52 886.77 809.12C888.11 809.73 889.44 810.34 890.78 810.96C892.12 811.57 893.46 812.19 894.79 812.82C896.13 813.45 897.47 814.08 898.81 814.71C900.14 815.35 901.48 815.99 902.82 816.64C904.16 817.29 905.49 817.95 906.83 818.61C908.17 819.27 909.51 819.94 910.84 820.62C912.18 821.30 913.52 821.98 914.86 822.67C916.20 823.36 917.53 824.06 918.87 824.77C920.21 825.47 921.55 826.19 922.88 826.91C924.22 827.64 925.56 828.37 926.90 829.11C928.23 829.85 929.57 830.60 930.91 831.36C932.25 832.12 933.58 832.89 934.92 833.67C936.26 834.45 937.60 835.24 938.93 836.04C940.27 836.84 941.61 837.65 942.95 838.47C944.28 839.29 945.62 840.12 946.96 840.96C948.30 841.80 949.63 842.66 950.97 843.52C952.31 844.39 953.65 845.27 954.98 846.15C956.32 847.04 957.66 847.94 959.00 848.85C960.33 849.76 961.67 850.69 963.01 851.62C964.35 852.56 965.68 853.51 967.02 854.47C968.36 855.43 969.70 856.40 971.03 857.38C972.37 858.37 973.71 859.36 975.05 860.37C976.38 861.38 977.72 862.40 979.06 863.43C980.40 864.47 981.73 865.51 983.07 866.56C984.41 867.62 985.75 868.69 987.08 869.77C988.42 870.84 989.76 871.93 991.10 873.03C992.43 874.13 993.77 875.25 995.11 876.37C996.45 877.49 997.78 878.62 999.12 879.76C1000.46 880.90 1001.80 882.05 1003.13 883.20C1004.47 884.36 1005.81 885.53 1007.15 886.70C1008.48 887.87 1009.82 889.05 1011.16 890.24C1012.50 891.43 1013.83 892.62 1015.17 893.82C1016.51 895.01 1017.85 896.22 1019.19 897.42C1020.52 898.63 1021.86 899.83 1023.20 901.04C1024.54 902.25 1025.87 903.47 1027.21 904.68C1028.55 905.89 1029.89 907.10 1031.22 908.31C1032.56 909.51 1033.90 910.72 1035.24 911.92C1036.57 913.12 1037.91 914.32 1039.25 915.51C1040.59 916.70 1041.92 917.89 1043.26 919.07C1044.60 920.24 1045.94 921.41 1047.27 922.56C1048.61 923.72 1049.95 924.87 1051.29 925.99C1052.62 927.12 1053.96 928.24 1055.30 929.34C1056.64 930.44 1057.97 931.52 1059.31 932.59C1060.65 933.65 1061.99 934.70 1063.32 935.72C1064.66 936.74 1066.00 937.74 1067.34 938.71C1068.67 939.69 1070.01 940.64 1071.35 941.56C1072.69 942.48 1074.02 943.37 1075.36 944.23C1076.70 945.09 1078.04 945.93 1079.37 946.72C1080.71 947.52 1082.05 948.28 1083.39 949.01C1084.72 949.73 1086.06 950.42 1087.40 951.07C1088.74 951.72 1090.07 952.33 1091.41 952.89C1092.75 953.46 1094.09 953.98 1095.42 954.46C1096.76 954.94 1098.10 955.37 1099.44 955.75C1100.77 956.13 1102.11 956.47 1103.45 956.75C1104.79 957.04 1106.12 957.27 1107.46 957.45C1108.80 957.63 1110.14 957.76 1111.47 957.82C1112.81 957.89 1114.15 957.91 1115.49 957.87C1116.82 957.82 1118.83 957.61 1119.50 957.56" fill="none" stroke="#000" stroke-width="2.2" stroke-linejoin="round"/>
<line x1="50.00" x2="50.00" y1="622.35" y2="976.20" stroke="#383838" stroke-width="1.5"/>
<line x1="49.30" x2="1171.50" y1="623.00" y2="623.00" stroke="#383838" stroke-width="1.4"/>
<line x1="1170.30" x2="1170.30" y1="622.35" y2="976.20" stroke="#383838" stroke-width="2.3"/>
<line x1="49.35" x2="1171.45" y1="975.10" y2="975.10" stroke="#383838" stroke-width="2.2"/>
<line x1="43.40" x2="49.50" y1="676.30" y2="676.30" stroke="#383838" stroke-width="2.20"/>
<line x1="43.40" x2="49.50" y1="768.00" y2="768.00" stroke="#383838" stroke-width="2.20"/>
<line x1="43.40" x2="49.50" y1="859.70" y2="859.70" stroke="#383838" stroke-width="2.20"/>
<line x1="43.40" x2="49.50" y1="951.40" y2="951.40" stroke="#383838" stroke-width="2.20"/>
<line x1="209.90" x2="209.90" y1="976.00" y2="981.10" stroke="#383838" stroke-width="2.20"/>
<line x1="462.00" x2="462.00" y1="976.00" y2="981.10" stroke="#383838" stroke-width="2.20"/>
<line x1="708.60" x2="708.60" y1="976.00" y2="981.10" stroke="#383838" stroke-width="2.20"/>
<line x1="957.90" x2="957.90" y1="976.00" y2="981.10" stroke="#383838" stroke-width="2.20"/>
<text x="38.40" y="684.70" font-size="23.00" text-anchor="end" font-weight="normal" fill="#000">10</text>
<text x="38.40" y="776.30" font-size="23.00" text-anchor="end" font-weight="normal" fill="#000">0</text>
<text x="38.40" y="868.00" font-size="23.00" text-anchor="end" font-weight="normal" fill="#000">-10</text>
<text x="38.40" y="960.00" font-size="23.00" text-anchor="end" font-weight="normal" fill="#000">-20</text>
<text x="209.90" y="1003.00" font-size="23.00" text-anchor="middle" font-weight="normal" fill="#000" letter-spacing="-0.17">oct. 2024</text>
<text x="462.00" y="1003.00" font-size="23.00" text-anchor="middle" font-weight="normal" fill="#000" letter-spacing="-0.17">janv. 2025</text>
<text x="708.60" y="1003.00" font-size="23.00" text-anchor="middle" font-weight="normal" fill="#000" letter-spacing="-0.17">avril 2025</text>
<text x="957.90" y="1003.00" font-size="23.00" text-anchor="middle" font-weight="normal" fill="#000" letter-spacing="-0.17">juil. 2025</text>
<text x="610.55" y="610.00" font-size="31.10" text-anchor="middle" font-weight="bold" fill="#000">Annual harmonic part</text>
<rect x="50.00" y="1073.00" width="1120.50" height="352.00" fill="#fff"/>
<line x1="50.00" x2="1168.80" y1="1080.40" y2="1080.40" stroke="#ebebeb" stroke-width="1.00"/>
<line x1="50.00" x2="1168.80" y1="1172.10" y2="1172.10" stroke="#ebebeb" stroke-width="1.00"/>
<line x1="50.00" x2="1168.80" y1="1263.80" y2="1263.80" stroke="#ebebeb" stroke-width="1.00"/>
<line x1="50.00" x2="1168.80" y1="1355.50" y2="1355.50" stroke="#ebebeb" stroke-width="1.00"/>
<line x1="83.90" x2="83.90" y1="1073.00" y2="1424.00" stroke="#ebebeb" stroke-width="1.00"/>
<line x1="335.90" x2="335.90" y1="1073.00" y2="1424.00" stroke="#ebebeb" stroke-width="1.00"/>
<line x1="585.30" x2="585.30" y1="1073.00" y2="1424.00" stroke="#ebebeb" stroke-width="1.00"/>
<line x1="833.20" x2="833.20" y1="1073.00" y2="1424.00" stroke="#ebebeb" stroke-width="1.00"/>
<line x1="1083.90" x2="1083.90" y1="1073.00" y2="1424.00" stroke="#ebebeb" stroke-width="1.00"/>
<line x1="50.00" x2="1168.80" y1="1126.30" y2="1126.30" stroke="#ebebeb" stroke-width="2.30"/>
<line x1="50.00" x2="1168.80" y1="1218.00" y2="1218.00" stroke="#ebebeb" stroke-width="2.30"/>
<line x1="50.00" x2="1168.80" y1="1309.70" y2="1309.70" stroke="#ebebeb" stroke-width="2.30"/>
<line x1="50.00" x2="1168.80" y1="1401.40" y2="1401.40" stroke="#ebebeb" stroke-width="2.30"/>
<line x1="209.90" x2="209.90" y1="1073.00" y2="1424.00" stroke="#cccccc" stroke-width="2.30"/>
<line x1="462.00" x2="462.00" y1="1073.00" y2="1424.00" stroke="#cccccc" stroke-width="2.30"/>
<line x1="708.60" x2="708.60" y1="1073.00" y2="1424.00" stroke="#cccccc" stroke-width="2.30"/>
<line x1="957.90" x2="957.90" y1="1073.00" y2="1424.00" stroke="#cccccc" stroke-width="2.30"/>
<path d="M100.30 1406.10C100.97 1406.30 102.98 1406.94 104.31 1407.28C105.65 1407.62 106.99 1407.92 108.33 1408.16C109.66 1408.40 111.00 1408.59 112.34 1408.73C113.68 1408.87 115.01 1408.95 116.35 1408.98C117.69 1409.01 119.03 1408.99 120.36 1408.91C121.70 1408.82 123.04 1408.68 124.38 1408.49C125.71 1408.29 127.05 1408.03 128.39 1407.72C129.73 1407.40 131.06 1407.03 132.40 1406.59C133.74 1406.16 135.08 1405.66 136.41 1405.10C137.75 1404.54 139.09 1403.92 140.43 1403.24C141.76 1402.55 143.10 1401.80 144.44 1400.99C145.78 1400.18 147.11 1399.31 148.45 1398.36C149.79 1397.42 151.13 1396.42 152.46 1395.35C153.80 1394.28 155.14 1393.15 156.48 1391.95C157.81 1390.75 159.15 1389.48 160.49 1388.16C161.83 1386.83 163.16 1385.43 164.50 1383.97C165.84 1382.52 167.18 1380.99 168.51 1379.41C169.85 1377.82 171.19 1376.17 172.53 1374.46C173.86 1372.74 175.20 1370.97 176.54 1369.13C177.88 1367.29 179.21 1365.39 180.55 1363.44C181.89 1361.48 183.23 1359.46 184.56 1357.39C185.90 1355.31 187.24 1353.18 188.58 1350.99C189.91 1348.80 191.25 1346.56 192.59 1344.26C193.93 1341.97 195.26 1339.62 196.60 1337.22C197.94 1334.83 199.28 1332.38 200.61 1329.88C201.95 1327.39 203.29 1324.85 204.63 1322.27C205.97 1319.69 207.30 1317.06 208.64 1314.40C209.98 1311.74 211.32 1309.04 212.65 1306.30C213.99 1303.57 215.33 1300.80 216.67 1298.00C218.00 1295.20 219.34 1292.37 220.68 1289.52C222.02 1286.67 223.35 1283.79 224.69 1280.90C226.03 1278.00 227.37 1275.08 228.70 1272.15C230.04 1269.23 231.38 1266.28 232.72 1263.33C234.05 1260.38 235.39 1257.41 236.73 1254.45C238.07 1251.49 239.40 1248.52 240.74 1245.56C242.08 1242.59 243.42 1239.63 244.75 1236.68C246.09 1233.72 247.43 1230.78 248.77 1227.85C250.10 1224.92 251.44 1222.00 252.78 1219.10C254.12 1216.21 255.45 1213.33 256.79 1210.48C258.13 1207.63 259.47 1204.80 260.80 1202.01C262.14 1199.21 263.48 1196.45 264.82 1193.72C266.15 1191.00 267.49 1188.30 268.83 1185.65C270.17 1183.01 271.50 1180.40 272.84 1177.84C274.18 1175.28 275.52 1172.76 276.85 1170.30C278.19 1167.83 279.53 1165.42 280.87 1163.06C282.20 1160.71 283.54 1158.40 284.88 1156.16C286.22 1153.92 287.55 1151.73 288.89 1149.61C290.23 1147.49 291.57 1145.43 292.90 1143.44C294.24 1141.45 295.58 1139.52 296.92 1137.66C298.25 1135.80 299.59 1134.01 300.93 1132.29C302.27 1130.57 303.60 1128.92 304.94 1127.34C306.28 1125.76 307.62 1124.25 308.96 1122.82C310.29 1121.39 311.63 1120.02 312.97 1118.74C314.31 1117.45 315.64 1116.24 316.98 1115.10C318.32 1113.96 319.66 1112.89 320.99 1111.90C322.33 1110.91 323.67 1109.99 325.01 1109.14C326.34 1108.29 327.68 1107.52 329.02 1106.81C330.36 1106.11 331.69 1105.48 333.03 1104.91C334.37 1104.35 335.71 1103.85 337.04 1103.42C338.38 1102.99 339.72 1102.63 341.06 1102.33C342.39 1102.03 343.73 1101.80 345.07 1101.62C346.41 1101.44 347.74 1101.33 349.08 1101.27C350.42 1101.21 351.76 1101.21 353.09 1101.26C354.43 1101.31 355.77 1101.42 357.11 1101.57C358.44 1101.72 359.78 1101.93 361.12 1102.17C362.46 1102.42 363.79 1102.71 365.13 1103.04C366.47 1103.37 367.81 1103.74 369.14 1104.14C370.48 1104.54 371.82 1104.98 373.16 1105.45C374.49 1105.91 375.83 1106.42 377.17 1106.94C378.51 1107.46 379.84 1108.01 381.18 1108.57C382.52 1109.14 383.86 1109.73 385.19 1110.32C386.53 1110.92 387.87 1111.54 389.21 1112.16C390.54 1112.79 391.88 1113.42 393.22 1114.06C394.56 1114.70 395.89 1115.35 397.23 1115.99C398.57 1116.63 399.91 1117.28 401.24 1117.91C402.58 1118.55 403.92 1119.19 405.26 1119.81C406.60 1120.44 407.93 1121.06 409.27 1121.66C410.61 1122.26 411.95 1122.86 413.28 1123.43C414.62 1124.00 415.96 1124.56 417.30 1125.10C418.63 1125.63 419.97 1126.15 421.31 1126.65C422.65 1127.14 423.98 1127.61 425.32 1128.05C426.66 1128.50 428.00 1128.92 429.33 1129.31C430.67 1129.70 432.01 1130.06 433.35 1130.39C434.68 1130.72 436.02 1131.02 437.36 1131.29C438.70 1131.56 440.03 1131.80 441.37 1132.00C442.71 1132.20 444.05 1132.37 445.38 1132.51C446.72 1132.64 448.06 1132.74 449.40 1132.81C450.73 1132.87 452.07 1132.91 453.41 1132.90C454.75 1132.90 456.08 1132.86 457.42 1132.79C458.76 1132.71 460.10 1132.61 461.43 1132.46C462.77 1132.32 464.11 1132.15 465.45 1131.94C466.78 1131.73 468.12 1131.49 469.46 1131.22C470.80 1130.94 472.13 1130.64 473.47 1130.30C474.81 1129.97 476.15 1129.60 477.48 1129.21C478.82 1128.81 480.16 1128.39 481.50 1127.94C482.83 1127.50 484.17 1127.02 485.51 1126.52C486.85 1126.03 488.18 1125.50 489.52 1124.96C490.86 1124.42 492.20 1123.85 493.53 1123.27C494.87 1122.68 496.21 1122.08 497.55 1121.46C498.88 1120.85 500.22 1120.21 501.56 1119.56C502.90 1118.92 504.23 1118.26 505.57 1117.59C506.91 1116.92 508.25 1116.24 509.59 1115.55C510.92 1114.87 512.26 1114.17 513.60 1113.48C514.94 1112.78 516.27 1112.08 517.61 1111.38C518.95 1110.68 520.29 1109.97 521.62 1109.28C522.96 1108.58 524.30 1107.88 525.64 1107.19C526.97 1106.50 528.31 1105.81 529.65 1105.14C530.99 1104.46 532.32 1103.79 533.66 1103.14C535.00 1102.48 536.34 1101.83 537.67 1101.20C539.01 1100.57 540.35 1099.95 541.69 1099.35C543.02 1098.75 544.36 1098.17 545.70 1097.60C547.04 1097.04 548.37 1096.49 549.71 1095.97C551.05 1095.44 552.39 1094.94 553.72 1094.46C555.06 1093.98 556.40 1093.53 557.74 1093.10C559.07 1092.67 560.41 1092.26 561.75 1091.88C563.09 1091.51 564.42 1091.16 565.76 1090.84C567.10 1090.51 568.44 1090.22 569.77 1089.96C571.11 1089.69 572.45 1089.46 573.79 1089.26C575.12 1089.06 576.46 1088.89 577.80 1088.75C579.14 1088.61 580.47 1088.50 581.81 1088.43C583.15 1088.35 584.49 1088.31 585.82 1088.30C587.16 1088.29 588.50 1088.31 589.84 1088.37C591.17 1088.43 592.51 1088.52 593.85 1088.64C595.19 1088.77 596.52 1088.92 597.86 1089.11C599.20 1089.30 600.54 1089.53 601.87 1089.78C603.21 1090.04 604.55 1090.33 605.89 1090.65C607.22 1090.97 608.56 1091.32 609.90 1091.71C611.24 1092.09 612.58 1092.51 613.91 1092.95C615.25 1093.40 616.59 1093.88 617.93 1094.39C619.26 1094.89 620.60 1095.43 621.94 1096.00C623.28 1096.56 624.61 1097.16 625.95 1097.78C627.29 1098.41 628.63 1099.06 629.96 1099.73C631.30 1100.41 632.64 1101.11 633.98 1101.84C635.31 1102.57 636.65 1103.32 637.99 1104.10C639.33 1104.87 640.66 1105.68 642.00 1106.50C643.34 1107.32 644.68 1108.17 646.01 1109.03C647.35 1109.89 648.69 1110.78 650.03 1111.69C651.36 1112.59 652.70 1113.52 654.04 1114.46C655.38 1115.40 656.71 1116.36 658.05 1117.33C659.39 1118.31 660.73 1119.30 662.06 1120.31C663.40 1121.31 664.74 1122.33 666.08 1123.37C667.41 1124.40 668.75 1125.45 670.09 1126.50C671.43 1127.56 672.76 1128.63 674.10 1129.71C675.44 1130.79 676.78 1131.88 678.11 1132.98C679.45 1134.08 680.79 1135.19 682.13 1136.30C683.46 1137.42 684.80 1138.54 686.14 1139.67C687.48 1140.80 688.81 1141.93 690.15 1143.07C691.49 1144.21 692.83 1145.36 694.16 1146.50C695.50 1147.65 696.84 1148.81 698.18 1149.96C699.51 1151.11 700.85 1152.27 702.19 1153.43C703.53 1154.59 704.86 1155.75 706.20 1156.91C707.54 1158.07 708.88 1159.23 710.21 1160.40C711.55 1161.56 712.89 1162.72 714.23 1163.88C715.57 1165.04 716.90 1166.20 718.24 1167.35C719.58 1168.51 720.92 1169.66 722.25 1170.81C723.59 1171.96 724.93 1173.11 726.27 1174.26C727.60 1175.40 728.94 1176.54 730.28 1177.68C731.62 1178.81 732.95 1179.94 734.29 1181.07C735.63 1182.20 736.97 1183.32 738.30 1184.43C739.64 1185.55 740.98 1186.66 742.32 1187.76C743.65 1188.86 744.99 1189.96 746.33 1191.05C747.67 1192.14 749.00 1193.22 750.34 1194.30C751.68 1195.37 753.02 1196.44 754.35 1197.50C755.69 1198.55 757.03 1199.60 758.37 1200.64C759.70 1201.69 761.04 1202.72 762.38 1203.74C763.72 1204.76 765.05 1205.78 766.39 1206.78C767.73 1207.78 769.07 1208.77 770.40 1209.76C771.74 1210.74 773.08 1211.71 774.42 1212.67C775.75 1213.63 777.09 1214.58 778.43 1215.52C779.77 1216.45 781.10 1217.38 782.44 1218.29C783.78 1219.21 785.12 1220.11 786.45 1221.00C787.79 1221.88 789.13 1222.76 790.47 1223.62C791.80 1224.49 793.14 1225.34 794.48 1226.17C795.82 1227.01 797.15 1227.83 798.49 1228.64C799.83 1229.45 801.17 1230.25 802.50 1231.03C803.84 1231.81 805.18 1232.58 806.52 1233.34C807.85 1234.09 809.19 1234.83 810.53 1235.56C811.87 1236.28 813.20 1236.99 814.54 1237.69C815.88 1238.39 817.22 1239.07 818.56 1239.74C819.89 1240.40 821.23 1241.06 822.57 1241.70C823.91 1242.34 825.24 1242.96 826.58 1243.57C827.92 1244.19 829.26 1244.78 830.59 1245.37C831.93 1245.95 833.27 1246.52 834.61 1247.08C835.94 1247.64 837.28 1248.18 838.62 1248.71C839.96 1249.24 841.29 1249.76 842.63 1250.27C843.97 1250.78 845.31 1251.27 846.64 1251.75C847.98 1252.24 849.32 1252.71 850.66 1253.17C851.99 1253.64 853.33 1254.09 854.67 1254.53C856.01 1254.98 857.34 1255.41 858.68 1255.84C860.02 1256.26 861.36 1256.68 862.69 1257.09C864.03 1257.50 865.37 1257.91 866.71 1258.31C868.04 1258.70 869.38 1259.10 870.72 1259.49C872.06 1259.88 873.39 1260.26 874.73 1260.64C876.07 1261.03 877.41 1261.41 878.74 1261.79C880.08 1262.17 881.42 1262.54 882.76 1262.92C884.09 1263.30 885.43 1263.68 886.77 1264.06C888.11 1264.45 889.44 1264.83 890.78 1265.22C892.12 1265.61 893.46 1266.00 894.79 1266.40C896.13 1266.80 897.47 1267.20 898.81 1267.61C900.14 1268.02 901.48 1268.44 902.82 1268.87C904.16 1269.30 905.49 1269.73 906.83 1270.18C908.17 1270.63 909.51 1271.09 910.84 1271.56C912.18 1272.03 913.52 1272.51 914.86 1273.01C916.20 1273.50 917.53 1274.01 918.87 1274.54C920.21 1275.06 921.55 1275.60 922.88 1276.16C924.22 1276.72 925.56 1277.29 926.90 1277.88C928.23 1278.47 929.57 1279.08 930.91 1279.71C932.25 1280.33 933.58 1280.98 934.92 1281.64C936.26 1282.31 937.60 1282.99 938.93 1283.70C940.27 1284.40 941.61 1285.13 942.95 1285.87C944.28 1286.62 945.62 1287.38 946.96 1288.17C948.30 1288.96 949.63 1289.77 950.97 1290.59C952.31 1291.42 953.65 1292.28 954.98 1293.15C956.32 1294.02 957.66 1294.91 959.00 1295.83C960.33 1296.74 961.67 1297.68 963.01 1298.63C964.35 1299.59 965.68 1300.57 967.02 1301.56C968.36 1302.56 969.70 1303.58 971.03 1304.61C972.37 1305.65 973.71 1306.71 975.05 1307.78C976.38 1308.85 977.72 1309.95 979.06 1311.06C980.40 1312.17 981.73 1313.29 983.07 1314.44C984.41 1315.58 985.75 1316.74 987.08 1317.91C988.42 1319.09 989.76 1320.28 991.10 1321.48C992.43 1322.68 993.77 1323.90 995.11 1325.12C996.45 1326.35 997.78 1327.59 999.12 1328.84C1000.46 1330.08 1001.80 1331.34 1003.13 1332.61C1004.47 1333.87 1005.81 1335.15 1007.15 1336.42C1008.48 1337.70 1009.82 1338.99 1011.16 1340.27C1012.50 1341.56 1013.83 1342.85 1015.17 1344.15C1016.51 1345.44 1017.85 1346.73 1019.19 1348.03C1020.52 1349.32 1021.86 1350.61 1023.20 1351.90C1024.54 1353.19 1025.87 1354.48 1027.21 1355.76C1028.55 1357.04 1029.89 1358.32 1031.22 1359.58C1032.56 1360.85 1033.90 1362.11 1035.24 1363.36C1036.57 1364.61 1037.91 1365.85 1039.25 1367.08C1040.59 1368.30 1041.92 1369.52 1043.26 1370.72C1044.60 1371.92 1045.94 1373.11 1047.27 1374.27C1048.61 1375.44 1049.95 1376.59 1051.29 1377.72C1052.62 1378.85 1053.96 1379.96 1055.30 1381.05C1056.64 1382.14 1057.97 1383.21 1059.31 1384.25C1060.65 1385.29 1061.99 1386.31 1063.32 1387.30C1064.66 1388.29 1066.00 1389.25 1067.34 1390.19C1068.67 1391.12 1070.01 1392.03 1071.35 1392.90C1072.69 1393.78 1074.02 1394.62 1075.36 1395.43C1076.70 1396.24 1078.04 1397.02 1079.37 1397.75C1080.71 1398.49 1082.05 1399.20 1083.39 1399.86C1084.72 1400.53 1086.06 1401.16 1087.40 1401.74C1088.74 1402.33 1090.07 1402.88 1091.41 1403.38C1092.75 1403.89 1094.09 1404.35 1095.42 1404.77C1096.76 1405.18 1098.10 1405.56 1099.44 1405.88C1100.77 1406.21 1102.11 1406.49 1103.45 1406.72C1104.79 1406.95 1106.12 1407.13 1107.46 1407.26C1108.80 1407.39 1110.14 1407.47 1111.47 1407.50C1112.81 1407.53 1114.15 1407.51 1115.49 1407.43C1116.82 1407.35 1118.83 1407.09 1119.50 1407.03" fill="none" stroke="#000" stroke-width="2.2" stroke-linejoin="round"/>
<line x1="50.00" x2="50.00" y1="1072.35" y2="1426.20" stroke="#383838" stroke-width="1.5"/>
<line x1="49.30" x2="1171.50" y1="1073.00" y2="1073.00" stroke="#383838" stroke-width="1.4"/>
<line x1="1170.30" x2="1170.30" y1="1072.35" y2="1426.20" stroke="#383838" stroke-width="2.3"/>
<line x1="49.35" x2="1171.45" y1="1425.10" y2="1425.10" stroke="#383838" stroke-width="2.2"/>
<line x1="43.40" x2="49.50" y1="1126.30" y2="1126.30" stroke="#383838" stroke-width="2.20"/>
<line x1="43.40" x2="49.50" y1="1218.00" y2="1218.00" stroke="#383838" stroke-width="2.20"/>
<line x1="43.40" x2="49.50" y1="1309.70" y2="1309.70" stroke="#383838" stroke-width="2.20"/>
<line x1="43.40" x2="49.50" y1="1401.40" y2="1401.40" stroke="#383838" stroke-width="2.20"/>
<line x1="209.90" x2="209.90" y1="1426.00" y2="1431.10" stroke="#383838" stroke-width="2.20"/>
<line x1="462.00" x2="462.00" y1="1426.00" y2="1431.10" stroke="#383838" stroke-width="2.20"/>
<line x1="708.60" x2="708.60" y1="1426.00" y2="1431.10" stroke="#383838" stroke-width="2.20"/>
<line x1="957.90" x2="957.90" y1="1426.00" y2="1431.10" stroke="#383838" stroke-width="2.20"/>
<text x="38.40" y="1134.80" font-size="23.00" text-anchor="end" font-weight="normal" fill="#000">10</text>
<text x="38.40" y="1226.30" font-size="23.00" text-anchor="end" font-weight="normal" fill="#000">0</text>
<text x="38.40" y="1318.00" font-size="23.00" text-anchor="end" font-weight="normal" fill="#000">-10</text>
<text x="38.40" y="1410.00" font-size="23.00" text-anchor="end" font-weight="normal" fill="#000">-20</text>
<text x="209.90" y="1453.00" font-size="23.00" text-anchor="middle" font-weight="normal" fill="#000" letter-spacing="-0.17">oct. 2024</text>
<text x="462.00" y="1453.00" font-size="23.00" text-anchor="middle" font-weight="normal" fill="#000" letter-spacing="-0.17">janv. 2025</text>
<text x="708.60" y="1453.00" font-size="23.00" text-anchor="middle" font-weight="normal" fill="#000" letter-spacing="-0.17">avril 2025</text>
<text x="957.90" y="1453.00" font-size="23.00" text-anchor="middle" font-weight="normal" fill="#000" letter-spacing="-0.17">juil. 2025</text>
<text x="610.55" y="1060.00" font-size="31.10" text-anchor="middle" font-weight="bold" fill="#000">Smoothed, detrended annual cycle (S(t) - T(t))</text>
<rect x="50.00" y="1523.00" width="1120.50" height="352.00" fill="#fff"/>
<line x1="50.00" x2="1168.80" y1="1583.00" y2="1583.00" stroke="#ebebeb" stroke-width="1.00"/>
<line x1="50.00" x2="1168.80" y1="1685.00" y2="1685.00" stroke="#ebebeb" stroke-width="1.00"/>
<line x1="50.00" x2="1168.80" y1="1787.00" y2="1787.00" stroke="#ebebeb" stroke-width="1.00"/>
<line x1="86.55" x2="86.55" y1="1523.00" y2="1874.00" stroke="#ebebeb" stroke-width="1.00"/>
<line x1="337.95" x2="337.95" y1="1523.00" y2="1874.00" stroke="#ebebeb" stroke-width="1.00"/>
<line x1="586.60" x2="586.60" y1="1523.00" y2="1874.00" stroke="#ebebeb" stroke-width="1.00"/>
<line x1="833.90" x2="833.90" y1="1523.00" y2="1874.00" stroke="#ebebeb" stroke-width="1.00"/>
<line x1="1083.95" x2="1083.95" y1="1523.00" y2="1874.00" stroke="#ebebeb" stroke-width="1.00"/>
<line x1="50.00" x2="1168.80" y1="1532.00" y2="1532.00" stroke="#ebebeb" stroke-width="2.30"/>
<line x1="50.00" x2="1168.80" y1="1634.00" y2="1634.00" stroke="#ebebeb" stroke-width="2.30"/>
<line x1="50.00" x2="1168.80" y1="1736.00" y2="1736.00" stroke="#ebebeb" stroke-width="2.30"/>
<line x1="50.00" x2="1168.80" y1="1838.00" y2="1838.00" stroke="#ebebeb" stroke-width="2.30"/>
<line x1="212.25" x2="212.25" y1="1523.00" y2="1874.00" stroke="#cccccc" stroke-width="2.30"/>
<line x1="463.70" x2="463.70" y1="1523.00" y2="1874.00" stroke="#cccccc" stroke-width="2.30"/>
<line x1="709.60" x2="709.60" y1="1523.00" y2="1874.00" stroke="#cccccc" stroke-width="2.30"/>
<line x1="958.25" x2="958.25" y1="1523.00" y2="1874.00" stroke="#cccccc" stroke-width="2.30"/>
<g fill="#000">
<circle cx="100.25" cy="1796.75" r="4.75"/>
<circle cx="105.50" cy="1784.75" r="4.75"/>
<circle cx="108.25" cy="1782.00" r="4.75"/>
<circle cx="124.75" cy="1775.25" r="4.75"/>
<circle cx="130.25" cy="1573.00" r="4.75"/>
<circle cx="133.00" cy="1687.25" r="4.75"/>
<circle cx="135.75" cy="1710.50" r="4.75"/>
<circle cx="143.75" cy="1747.75" r="4.75"/>
<circle cx="149.25" cy="1642.75" r="4.75"/>
<circle cx="154.75" cy="1762.50" r="4.75"/>
<circle cx="163.00" cy="1771.75" r="4.75"/>
<circle cx="168.50" cy="1758.00" r="4.75"/>
<circle cx="176.50" cy="1661.00" r="4.75"/>
<circle cx="187.75" cy="1653.75" r="4.75"/>
<circle cx="201.25" cy="1739.25" r="4.75"/>
<circle cx="212.25" cy="1808.25" r="4.75"/>
<circle cx="223.00" cy="1756.00" r="4.75"/>
<circle cx="231.25" cy="1793.50" r="4.75"/>
<circle cx="239.50" cy="1797.25" r="4.75"/>
<circle cx="250.50" cy="1711.75" r="4.75"/>
<circle cx="258.75" cy="1733.50" r="4.75"/>
<circle cx="266.75" cy="1829.25" r="4.75"/>
<circle cx="272.50" cy="1843.75" r="4.75"/>
<circle cx="275.00" cy="1771.00" r="4.75"/>
<circle cx="283.25" cy="1644.75" r="4.75"/>
<circle cx="294.25" cy="1691.00" r="4.75"/>
<circle cx="299.50" cy="1662.50" r="4.75"/>
<circle cx="310.75" cy="1549.75" r="4.75"/>
<circle cx="316.25" cy="1538.00" r="4.75"/>
<circle cx="321.50" cy="1693.50" r="4.75"/>
<circle cx="335.25" cy="1757.75" r="4.75"/>
<circle cx="343.25" cy="1844.25" r="4.75"/>
<circle cx="348.75" cy="1849.50" r="4.75"/>
<circle cx="354.25" cy="1843.00" r="4.75"/>
<circle cx="362.50" cy="1859.25" r="4.75"/>
<circle cx="370.75" cy="1841.75" r="4.75"/>
<circle cx="381.75" cy="1712.75" r="4.75"/>
<circle cx="403.50" cy="1633.50" r="4.75"/>
<circle cx="409.00" cy="1686.75" r="4.75"/>
<circle cx="417.25" cy="1749.00" r="4.75"/>
<circle cx="425.25" cy="1766.50" r="4.75"/>
<circle cx="436.50" cy="1765.25" r="4.75"/>
<circle cx="450.00" cy="1700.50" r="4.75"/>
<circle cx="455.50" cy="1661.50" r="4.75"/>
<circle cx="466.25" cy="1774.25" r="4.75"/>
<circle cx="474.50" cy="1773.75" r="4.75"/>
<circle cx="480.00" cy="1780.25" r="4.75"/>
<circle cx="485.50" cy="1767.00" r="4.75"/>
<circle cx="507.50" cy="1691.25" r="4.75"/>
<circle cx="521.00" cy="1748.00" r="4.75"/>
<circle cx="534.75" cy="1800.00" r="4.75"/>
<circle cx="540.25" cy="1807.00" r="4.75"/>
<circle cx="548.25" cy="1744.25" r="4.75"/>
<circle cx="556.50" cy="1700.50" r="4.75"/>
<circle cx="562.25" cy="1759.00" r="4.75"/>
<circle cx="570.25" cy="1723.75" r="4.75"/>
<circle cx="581.25" cy="1641.25" r="4.75"/>
<circle cx="584.00" cy="1700.25" r="4.75"/>
<circle cx="594.75" cy="1640.00" r="4.75"/>
<circle cx="602.75" cy="1748.00" r="4.75"/>
<circle cx="608.50" cy="1802.50" r="4.75"/>
<circle cx="611.25" cy="1783.25" r="4.75"/>
<circle cx="616.50" cy="1811.00" r="4.75"/>
<circle cx="624.75" cy="1750.25" r="4.75"/>
<circle cx="638.50" cy="1684.00" r="4.75"/>
<circle cx="644.00" cy="1789.75" r="4.75"/>
<circle cx="652.25" cy="1789.75" r="4.75"/>
<circle cx="657.75" cy="1759.50" r="4.75"/>
<circle cx="665.75" cy="1665.50" r="4.75"/>
<circle cx="671.25" cy="1733.50" r="4.75"/>
<circle cx="674.00" cy="1743.00" r="4.75"/>
<circle cx="685.00" cy="1748.75" r="4.75"/>
<circle cx="698.75" cy="1711.00" r="4.75"/>
<circle cx="701.50" cy="1748.00" r="4.75"/>
<circle cx="712.25" cy="1740.00" r="4.75"/>
<circle cx="720.25" cy="1731.25" r="4.75"/>
<circle cx="726.00" cy="1743.00" r="4.75"/>
<circle cx="734.25" cy="1723.25" r="4.75"/>
<circle cx="739.75" cy="1708.50" r="4.75"/>
<circle cx="748.00" cy="1715.25" r="4.75"/>
<circle cx="756.00" cy="1750.25" r="4.75"/>
<circle cx="767.00" cy="1741.25" r="4.75"/>
<circle cx="769.75" cy="1716.50" r="4.75"/>
<circle cx="783.50" cy="1710.00" r="4.75"/>
<circle cx="789.00" cy="1771.50" r="4.75"/>
<circle cx="802.50" cy="1729.25" r="4.75"/>
<circle cx="810.75" cy="1746.75" r="4.75"/>
<circle cx="821.50" cy="1719.00" r="4.75"/>
<circle cx="830.00" cy="1793.00" r="4.75"/>
<circle cx="838.00" cy="1706.50" r="4.75"/>
<circle cx="843.50" cy="1747.25" r="4.75"/>
<circle cx="851.75" cy="1714.75" r="4.75"/>
<circle cx="862.50" cy="1705.00" r="4.75"/>
<circle cx="870.75" cy="1748.75" r="4.75"/>
<circle cx="878.75" cy="1753.75" r="4.75"/>
<circle cx="887.00" cy="1724.80" r="4.75"/>
<circle cx="906.30" cy="1805.90" r="4.75"/>
<circle cx="911.50" cy="1689.30" r="4.75"/>
<circle cx="919.80" cy="1751.40" r="4.75"/>
<circle cx="933.50" cy="1712.70" r="4.75"/>
<circle cx="939.00" cy="1743.50" r="4.75"/>
<circle cx="947.30" cy="1686.80" r="4.75"/>
<circle cx="955.25" cy="1719.30" r="4.75"/>
<circle cx="969.00" cy="1720.60" r="4.75"/>
<circle cx="974.50" cy="1732.70" r="4.75"/>
<circle cx="988.25" cy="1707.40" r="4.75"/>
<circle cx="996.20" cy="1748.10" r="4.75"/>
<circle cx="1010.00" cy="1775.90" r="4.75"/>
<circle cx="1015.50" cy="1745.70" r="4.75"/>
<circle cx="1023.70" cy="1709.90" r="4.75"/>
<circle cx="1034.50" cy="1774.50" r="4.75"/>
<circle cx="1042.70" cy="1761.00" r="4.75"/>
<circle cx="1051.00" cy="1783.60" r="4.75"/>
<circle cx="1056.50" cy="1791.30" r="4.75"/>
<circle cx="1073.00" cy="1662.00" r="4.75"/>
<circle cx="1086.40" cy="1718.40" r="4.75"/>
<circle cx="1097.40" cy="1669.50" r="4.75"/>
<circle cx="1100.50" cy="1776.20" r="4.75"/>
<circle cx="1111.20" cy="1731.60" r="4.75"/>
<circle cx="1119.40" cy="1750.60" r="4.75"/>
</g>
<line x1="50.00" x2="50.00" y1="1522.35" y2="1876.20" stroke="#383838" stroke-width="1.5"/>
<line x1="49.30" x2="1171.50" y1="1523.00" y2="1523.00" stroke="#383838" stroke-width="1.4"/>
<line x1="1170.30" x2="1170.30" y1="1522.35" y2="1876.20" stroke="#383838" stroke-width="2.3"/>
<line x1="49.35" x2="1171.45" y1="1875.10" y2="1875.10" stroke="#383838" stroke-width="2.2"/>
<line x1="43.40" x2="49.50" y1="1532.00" y2="1532.00" stroke="#383838" stroke-width="2.20"/>
<line x1="43.40" x2="49.50" y1="1634.00" y2="1634.00" stroke="#383838" stroke-width="2.20"/>
<line x1="43.40" x2="49.50" y1="1736.00" y2="1736.00" stroke="#383838" stroke-width="2.20"/>
<line x1="43.40" x2="49.50" y1="1838.00" y2="1838.00" stroke="#383838" stroke-width="2.20"/>
<line x1="212.25" x2="212.25" y1="1876.00" y2="1881.10" stroke="#383838" stroke-width="2.20"/>
<line x1="463.70" x2="463.70" y1="1876.00" y2="1881.10" stroke="#383838" stroke-width="2.20"/>
<line x1="709.60" x2="709.60" y1="1876.00" y2="1881.10" stroke="#383838" stroke-width="2.20"/>
<line x1="958.25" x2="958.25" y1="1876.00" y2="1881.10" stroke="#383838" stroke-width="2.20"/>
<text x="38.40" y="1540.80" font-size="23.00" text-anchor="end" font-weight="normal" fill="#000">20</text>
<text x="38.40" y="1642.80" font-size="23.00" text-anchor="end" font-weight="normal" fill="#000">10</text>
<text x="38.40" y="1744.60" font-size="23.00" text-anchor="end" font-weight="normal" fill="#000">0</text>
<text x="38.40" y="1845.90" font-size="23.00" text-anchor="end" font-weight="normal" fill="#000">-10</text>
<text x="212.25" y="1903.00" font-size="23.00" text-anchor="middle" font-weight="normal" fill="#000" letter-spacing="-0.17">oct. 2024</text>
<text x="463.70" y="1903.00" font-size="23.00" text-anchor="middle" font-weight="normal" fill="#000" letter-spacing="-0.17">janv. 2025</text>
<text x="709.60" y="1903.00" font-size="23.00" text-anchor="middle" font-weight="normal" fill="#000" letter-spacing="-0.17">avril 2025</text>
<text x="958.25" y="1903.00" font-size="23.00" text-anchor="middle" font-weight="normal" fill="#000" letter-spacing="-0.17">juil. 2025</text>
<text x="610.55" y="1510.00" font-size="31.10" text-anchor="middle" font-weight="bold" fill="#000">Residuals from the smoothed curve (c(t) - S(t))</text>
</svg>
</body>
</html>
